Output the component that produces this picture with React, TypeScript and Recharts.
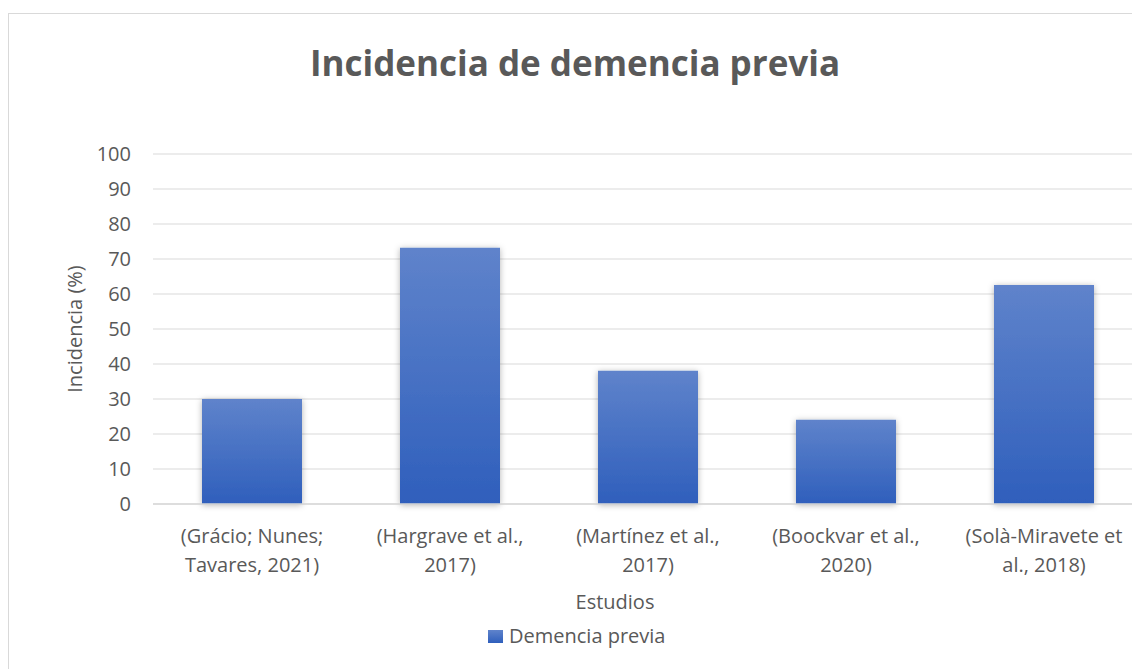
import { BarChart, Bar, XAxis, YAxis, CartesianGrid } from 'recharts'

// estudios (eje X) y su incidencia en %
const estudios = [
  '(Grácio; Nunes;\nTavares, 2021)',
  '(Hargrave et al.,\n2017)',
  '(Martínez et al.,\n2017)',
  '(Boockvar et al.,\n2020)',
  '(Solà-Miravete et\nal., 2018)',
]
const incidencia = [30, 73.2, 38.1, 24.1, 62.6]
const yTicks = [0, 10, 20, 30, 40, 50, 60, 70, 80, 90, 100]

const serieNombre = 'Demencia previa'
const titulo = 'Incidencia de demencia previa'

const data = estudios.map((name, i) => ({ name, value: incidencia[i] }))

const FONT = '"Open Sans", sans-serif'
const GRAY = '#595959'

function TickEstudio({ x, y, payload }: any) {
  const lines = String(payload.value).split('\n')
  return (
    <text x={x} y={y} textAnchor="middle" fill={GRAY} fontSize={20} fontFamily={FONT}>
      {lines.map((l, i) => (
        <tspan key={i} x={x} dy={i === 0 ? 38.5 : 29}>
          {l}
        </tspan>
      ))}
    </text>
  )
}

export default function App() {
  return (
    <div style={{ position: 'fixed', left: 0, top: 0, width: 1132, height: 669, overflow: 'hidden', background: '#fff' }}>
      <div style={{ position: 'absolute', left: 8, top: 13, width: 1160, height: 700, border: '1px solid #d9d9d9' }}>
        <BarChart
          width={1160}
          height={680}
          data={data}
          margin={{ top: 140, right: 26, bottom: 70, left: 64 }}
        >
          <defs>
            <linearGradient id="barGrad" x1="0" y1="0" x2="0" y2="1">
              <stop offset="0%" stopColor="#5f83cb" />
              <stop offset="100%" stopColor="#2f5fbc" />
            </linearGradient>
            <filter id="barShadow" x="-20%" y="-20%" width="140%" height="140%">
              <feDropShadow dx="0" dy="1" stdDeviation="3" floodColor="#000" floodOpacity="0.3" />
            </filter>
          </defs>

          <text x={566} y={62} textAnchor="middle" fontSize={35} fontWeight={700} fill={GRAY} fontFamily={FONT}>
            {titulo}
          </text>

          <CartesianGrid vertical={false} stroke="#d9d9d9" strokeWidth={1.2} />
          <XAxis
            dataKey="name"
            interval={0}
            tickLine={false}
            tickSize={0}
            tickMargin={0}
            height={120}
            axisLine={{ stroke: '#d9d9d9', strokeWidth: 1.5 }}
            tick={<TickEstudio />}
            label={({ viewBox }: any) => (
              <text
                x={viewBox.x + viewBox.width / 2 - 33}
                y={viewBox.y + 105}
                textAnchor="middle"
                fill={GRAY}
                fontSize={20}
                fontFamily={FONT}
              >
                Estudios
              </text>
            )}
          />
          <YAxis
            domain={[0, 100]}
            ticks={yTicks}
            width={80}
            axisLine={false}
            tickLine={false}
            tickSize={20}
            tickMargin={2}
            tick={{ fill: GRAY, fontSize: 20, fontFamily: FONT }}
            label={({ viewBox }: any) => {
              const cx = viewBox.x + 1
              const cy = viewBox.y + viewBox.height / 2
              return (
                <text
                  x={cx}
                  y={cy}
                  transform={`rotate(-90, ${cx}, ${cy})`}
                  textAnchor="middle"
                  dominantBaseline="central"
                  fill={GRAY}
                  fontSize={20}
                  fontFamily={FONT}
                >
                  Incidencia (%)
                </text>
              )
            }}
          />
          <Bar
            dataKey="value"
            name={serieNombre}
            fill="url(#barGrad)"
            barSize={100}
            filter="url(#barShadow)"
            isAnimationActive={false}
          />

          {/* leyenda */}
          <rect x={479} y={616} width={15} height={13} fill="url(#barGrad)" />
          <text x={500} y={629} fill={GRAY} fontSize={20} fontFamily={FONT}>
            {serieNombre}
          </text>
        </BarChart>
      </div>
    </div>
  )
}
